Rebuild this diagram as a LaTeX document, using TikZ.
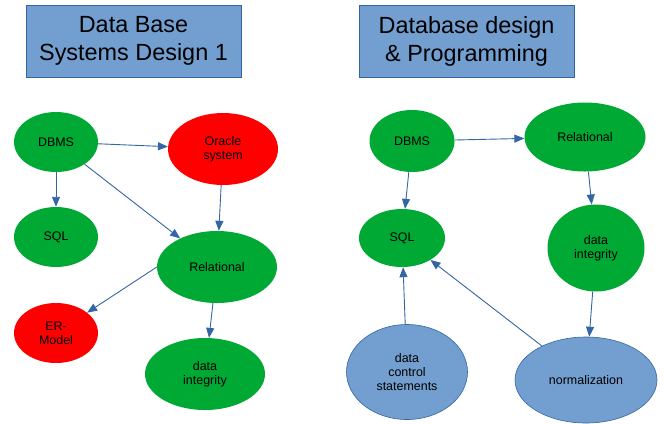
\documentclass[tikz,border=0pt]{standalone}
\usepackage{fontspec}
\setmainfont{Liberation Sans}
\usetikzlibrary{shapes.geometric,arrows.meta}
\definecolor{vihrea}{HTML}{00A933}
\definecolor{punainen}{HTML}{FF0000}
\definecolor{vaalsin}{HTML}{729FCF}
\definecolor{tumsin}{HTML}{3465A4}
\begin{document}
\begin{tikzpicture}[x=1bp, y=-1bp,
      otsikko/.style={draw=tumsin, line width=0.6bp, fill=vaalsin, minimum width=215bp,
        minimum height=72bp, align=center, font=\fontsize{23.5}{28}\selectfont},
      pallo/.style={ellipse, inner sep=0pt, align=center, font=\fontsize{12.5}{14.5}\selectfont},
      vihr/.style={pallo, fill=vihrea},
      pun/.style={pallo, fill=punainen},
      sin/.style={pallo, fill=vaalsin, draw=tumsin, line width=0.6bp},
      nuoli/.style={line width=0.9bp, draw=tumsin, -{Triangle[length=10bp, width=8bp]}}]

      \useasboundingbox (0,0) rectangle (664,423);

      % Otsikot
      \node [otsikko] (ots1) at (133.5,41) {Data Base\\Systems Design 1};
      \node [otsikko] (ots2) at (466.5,41) {Database design\\\& Programming};

      % Vasen kaavio
      \node [vihr, minimum width=84bp, minimum height=60bp] (dbms1) at (56,142) {DBMS};
      \node [pun, minimum width=110bp, minimum height=72bp] (oracle) at (223,149) {Oracle\\system};
      \node [vihr, minimum width=84bp, minimum height=60bp] (sql1) at (56,237) {SQL};
      \node [vihr, minimum width=120bp, minimum height=72bp] (rel1) at (217,267) {Relational};
      \node [pun, minimum width=84bp, minimum height=60bp] (er) at (56,333) {ER-\\Model};
      \node [vihr, minimum width=120bp, minimum height=72bp] (int1) at (205,374) {data\\integrity};

      \draw [nuoli] (dbms1) -- (oracle);
      \draw [nuoli] (dbms1) -- (sql1);
      \draw [nuoli] (dbms1) -- (rel1);
      \draw [nuoli] (oracle) -- (rel1);
      \draw [nuoli] (rel1.west) -- (er);
      \draw [nuoli] (rel1) -- (int1);

      % Oikea kaavio
      \node [vihr, minimum width=85bp, minimum height=62bp] (dbms2) at (412,141) {DBMS};
      \node [vihr, minimum width=121bp, minimum height=69bp] (rel2) at (585,137) {Relational};
      \node [vihr, minimum width=86bp, minimum height=58bp] (sql2) at (402,238) {SQL};
      \node [vihr, minimum width=97bp, minimum height=87bp] (int2) at (596,248) {data\\integrity};
      \node [sin, minimum width=121bp, minimum height=95bp] (dcs) at (407,372) {data\\control\\statements};
      \node [sin, minimum width=142bp, minimum height=86bp] (norm) at (586,380) {normalization};

      \draw [nuoli] (dbms2) -- (rel2);
      \draw [nuoli] (dbms2) -- (sql2);
      \draw [nuoli] (rel2) -- (int2);
      \draw [nuoli] (int2) -- (norm);
      \draw [nuoli] (dcs) -- (sql2);
      \draw [nuoli] (norm) -- (sql2);
    \end{tikzpicture}
\end{document}
